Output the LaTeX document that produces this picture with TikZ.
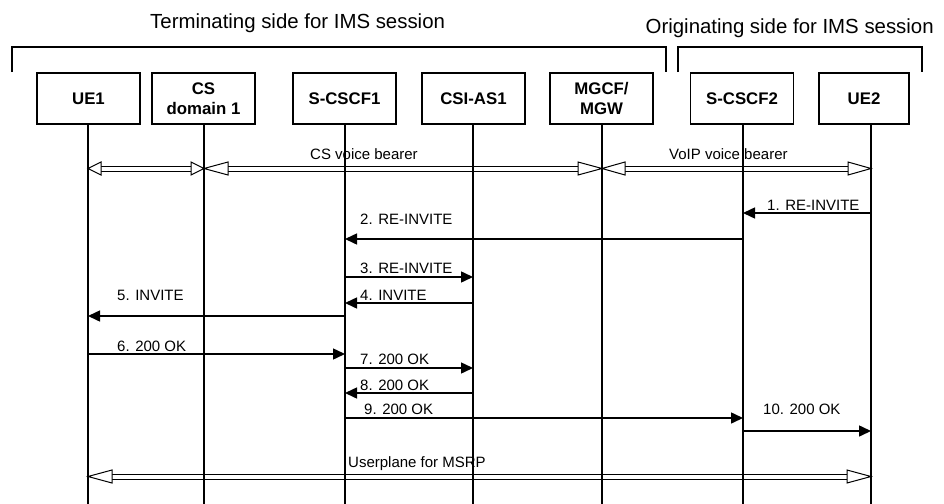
\documentclass[tikz,border=0pt]{standalone}
\usepackage{fontspec}
\setmainfont{Liberation Sans}
\usetikzlibrary{arrows.meta, positioning, calc}

\tikzset{
  entity/.style={draw, line width=1.1pt, minimum width=103pt, minimum height=51pt,
    align=center, inner sep=2pt, font=\fontsize{16.8}{20.5}\selectfont\bfseries},
  lifeline/.style={line width=1.1pt},
  msg/.style={line width=1.5pt, -{Triangle[length=12pt,width=11pt]}},
  bearerline/.style={line width=1pt, line join=miter},
  lbl/.style={anchor=base west, inner sep=0pt, font=\fontsize{15}{18}\selectfont},
  sidetitle/.style={anchor=base west, inner sep=0pt, font=\fontsize{20.4}{24}\selectfont},
  bracket/.style={line width=1.1pt}
}

% double bearer with open heads at both ends: from, to, head length
\newcommand\bearer[3]{%
  \draw[bearerline] ($(#1)+(#3,-2.5)$) -- ($(#2)+(-#3,-2.5)$);
  \draw[bearerline] ($(#1)+(#3,2.5)$) -- ($(#2)+(-#3,2.5)$);
  \draw[bearerline, fill=white] (#1) -- ++(#3,-6.5) -- ++(0,13) -- cycle;
  \draw[bearerline, fill=white] (#2) -- ++(-#3,-6.5) -- ++(0,13) -- cycle;
}

\begin{document}
\begin{tikzpicture}[x=1pt, y=-1pt]
  \useasboundingbox (0,0) rectangle (944,503);

  % side titles and brackets
  \node[sidetitle] (term) at (150,28.5) {Terminating side for IMS session};
  \node[sidetitle] (orig) at (645.5,34) {Originating side for IMS session};
  \draw[bracket] (12,72) -- (12,47) -- (666,47) -- (666,72);
  \draw[bracket] (678,72) -- (678,47) -- (922,47) -- (922,72);

  % entities
  \node[entity] (ue1) at (88.5,98.5) {UE1};
  \node[entity] (csd) at (203.5,98.5) {CS\\domain 1};
  \node[entity] (scscf1) at (344.5,98.5) {S-CSCF1};
  \node[entity] (csias) at (473.5,98.5) {CSI-AS1};
  \node[entity] (mgcf) at (601.5,98.5) {MGCF/\\MGW};
  \node[entity] (scscf2) at (742,98.5) {S-CSCF2};
  \node[entity, minimum width=90pt] (ue2) at (864,98.5) {UE2};

  % lifelines
  \foreach \n/\x in {ue1/88, csd/204, scscf1/345, csias/473, mgcf/602, scscf2/743, ue2/871} {
    \coordinate (\n-top) at (\x,124);
    \coordinate (\n-end) at (\x,505);
    \coordinate (\n-vb) at (\x,168.5);
    \coordinate (\n-up) at (\x,476.5);
    \draw[lifeline] (\n-top) -- (\n-end);
  }

  % bearers
  \bearer{ue1-vb}{csd-vb}{13}
  \bearer{csd-vb}{mgcf-vb}{24}
  \bearer{mgcf-vb}{ue2-vb}{23}
  \node[lbl] (csb) at (310,159) {CS voice bearer};
  \node[lbl] (voipb) at (669,159) {VoIP voice bearer};

  % messages
  \draw[msg] (ue2-top |- 0,213) -- (scscf2-top |- 0,213);
  \node[lbl] (m1) at (767,210) {1. RE-INVITE};
  \draw[msg] (scscf2-top |- 0,239) -- (scscf1-top |- 0,239);
  \node[lbl] (m2) at (360,224) {2. RE-INVITE};
  \draw[msg] (scscf1-top |- 0,277) -- (csias-top |- 0,277);
  \node[lbl] (m3) at (360,273) {3. RE-INVITE};
  \draw[msg] (csias-top |- 0,303) -- (scscf1-top |- 0,303);
  \node[lbl] (m4) at (360,300) {4. INVITE};
  \draw[msg] (scscf1-top |- 0,316) -- (ue1-top |- 0,316);
  \node[lbl] (m5) at (117,300) {5. INVITE};
  \draw[msg] (ue1-top |- 0,354) -- (scscf1-top |- 0,354);
  \node[lbl] (m6) at (117,351) {6. 200 OK};
  \draw[msg] (scscf1-top |- 0,368) -- (csias-top |- 0,368);
  \node[lbl] (m7) at (360,364) {7. 200 OK};
  \draw[msg] (csias-top |- 0,393) -- (scscf1-top |- 0,393);
  \node[lbl] (m8) at (360,390) {8. 200 OK};
  \draw[msg] (scscf1-top |- 0,418) -- (scscf2-top |- 0,418);
  \node[lbl] (m9) at (364,414) {9. 200 OK};
  \draw[msg] (scscf2-top |- 0,431) -- (ue2-top |- 0,431);
  \node[lbl] (m10) at (763,414) {10. 200 OK};

  % user plane
  \bearer{ue1-up}{ue2-up}{24}
  \node[lbl] (msrp) at (348,467) {Userplane for MSRP};
\end{tikzpicture}
\end{document}
